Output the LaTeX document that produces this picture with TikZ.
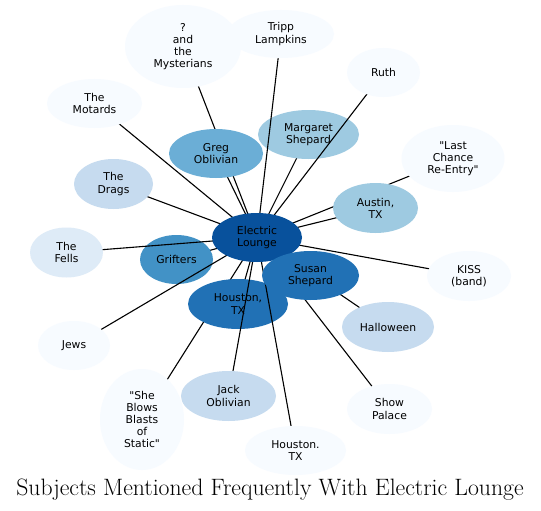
\documentclass[tikz,border=0pt]{standalone}
\usepackage{fontspec}
\newfontfamily\nodefont{DejaVu Sans}
\usetikzlibrary{shapes.geometric}
\pgfdeclarelayer{backdrop}
\pgfdeclarelayer{lowedges}
\pgfdeclarelayer{lownodes}
\pgfdeclarelayer{background}
\pgfsetlayers{backdrop,lowedges,lownodes,background,main}
\definecolor{bA}{HTML}{F7FBFF}
\definecolor{bB}{HTML}{DEEBF7}
\definecolor{bC}{HTML}{C6DBEF}
\definecolor{bD}{HTML}{9ECAE1}
\definecolor{bE}{HTML}{6BAED6}
\definecolor{bF}{HTML}{4292C6}
\definecolor{bG}{HTML}{2171B5}
\definecolor{bH}{HTML}{08519C}
\begin{document}
\begin{tikzpicture}[x=1pt,y=-1pt,
  topic/.style={ellipse, inner sep=0pt, align=center, text=black,
    font=\nodefont\fontsize{10.8}{12.2}\selectfont},
  edge/.style={draw=black, line width=1.1pt}]
\useasboundingbox (0,0) rectangle (541,511);
\begin{pgfonlayer}{backdrop}
\fill[white] (0,0) rectangle (541,511);
\end{pgfonlayer}
\begin{pgfonlayer}{lownodes}
\node[topic, fill=bD, minimum width=101pt, minimum height=49pt] (marg) at (308.5,134.5) {Margaret\\Shepard};
\node[topic, fill=bF, minimum width=73pt, minimum height=49pt] (grift) at (176.5,259.5) {Grifters};
\node[topic, fill=bG, minimum width=100pt, minimum height=50pt] (hou) at (238,304) {Houston,\\TX};
\end{pgfonlayer}
\node[topic, fill=bH, minimum width=90pt, minimum height=49pt] (el) at (257,237.5) {Electric\\Lounge};
\node[topic, fill=bA, minimum width=116pt, minimum height=83pt] (myst) at (183,46.5) {?\\and\\the\\Mysterians};
\node[topic, fill=bA, minimum width=106pt, minimum height=48pt] (tripp) at (281,34) {Tripp\\Lampkins};
\node[topic, fill=bA, minimum width=73pt, minimum height=49pt] (ruth) at (383.5,72.5) {Ruth};
\node[topic, fill=bA, minimum width=95pt, minimum height=49pt] (motards) at (94.5,103.5) {The\\Motards};
\node[topic, fill=bE, minimum width=94pt, minimum height=49pt] (greg) at (216,153.5) {Greg\\Oblivian};
\node[topic, fill=bA, minimum width=103pt, minimum height=67pt] (last) at (453,158.5) {"Last\\Chance\\Re-Entry"};
\node[topic, fill=bC, minimum width=79pt, minimum height=50pt] (drags) at (113.5,184) {The\\Drags};
\node[topic, fill=bD, minimum width=85pt, minimum height=50pt] (austin) at (375.5,208) {Austin,\\TX};
\node[topic, fill=bB, minimum width=73pt, minimum height=50pt] (fells) at (66.5,252.5) {The\\Fells};
\node[topic, fill=bG, minimum width=97pt, minimum height=49pt] (susan) at (310.5,275.5) {Susan\\Shepard};
\node[topic, fill=bA, minimum width=84pt, minimum height=50pt] (kiss) at (469,276) {KISS\\(band)};
\node[topic, fill=bC, minimum width=92pt, minimum height=50pt] (hall) at (388,327) {Halloween};
\node[topic, fill=bA, minimum width=72pt, minimum height=49pt] (jews) at (74,345.5) {Jews};
\node[topic, fill=bC, minimum width=95pt, minimum height=50pt] (jack) at (228.5,396) {Jack\\Oblivian};
\node[topic, fill=bA, minimum width=84pt, minimum height=101pt] (static) at (142,419.5) {"She\\Blows\\Blasts\\of\\Static"};
\node[topic, fill=bA, minimum width=85pt, minimum height=50pt] (show) at (389.5,409) {Show\\Palace};
\node[topic, fill=bA, minimum width=101pt, minimum height=49pt] (houdot) at (295.5,450.5) {Houston.\\TX};
\begin{pgfonlayer}{lowedges}
\foreach \n in {static,marg,grift,hou}
  \draw[edge] (el.center) -- (\n.center);
\end{pgfonlayer}
\begin{pgfonlayer}{background}
\foreach \n in {myst,tripp,ruth,motards,greg,last,drags,austin,fells,susan,kiss,hall,jews,jack,show,houdot}
  \draw[edge] (el.center) -- (\n.center);
\end{pgfonlayer}
\node[anchor=base, font=\fontsize{23.7}{26}\selectfont, inner sep=0pt] (title) at (270,495.5) {Subjects Mentioned Frequently With Electric Lounge};
\end{tikzpicture}
\end{document}
